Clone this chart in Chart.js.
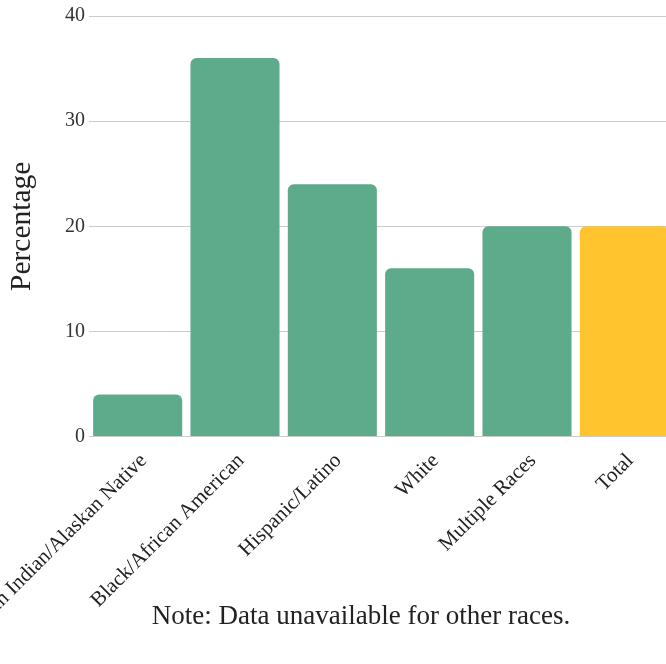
<!DOCTYPE html>
<html>
<head>
<meta charset="utf-8">
<script src="https://cdn.jsdelivr.net/npm/chart.js"></script>
<style>
  html, body { margin: 0; padding: 0; background: #fff; }
  #wrap { width: 666px; height: 664px; overflow: hidden; position: relative; }
  #chart { position: absolute; left: 0; top: 0; }
</style>
</head>
<body>
<div id="wrap"><canvas id="chart" width="722" height="664"></canvas></div>
<script>
// chart data
const categories = ['American Indian/Alaskan Native', 'Black/African American', 'Hispanic/Latino', 'White', 'Multiple Races', 'Total'];
const percentages = [4, 36, 24, 16, 20, 20];
const barColors = ['#5eab8b', '#5eab8b', '#5eab8b', '#5eab8b', '#5eab8b', '#ffc42e'];
const yTicks = [0, 10, 20, 30, 40];
const noteText = 'Note: Data unavailable for other races.';

const serif = '"Liberation Serif", "Times New Roman", serif';

const ctx = document.getElementById('chart').getContext('2d');
const chart = new Chart(ctx, {
    type: 'bar',
    data: {
        labels: categories,
        datasets: [{
            data: percentages,
            backgroundColor: barColors,
            borderRadius: 6,
            borderSkipped: 'start',
            categoryPercentage: 1,
            barPercentage: 0.915
        }]
    },
    options: {
        responsive: false,
        animation: false,
        devicePixelRatio: 1,
        layout: { padding: { top: 13, left: 0, right: 0, bottom: 0 } },
        plugins: {
            legend: { display: false },
            tooltip: { enabled: false },
            title: {
                display: true,
                position: 'bottom',
                text: noteText,
                color: '#222',
                font: { family: serif, size: 27, weight: 'normal' },
                // negative top padding lets the tick labels run into the title box
                padding: { top: -30, bottom: 31 }
            }
        },
        scales: {
            x: {
                grid: { display: false },
                border: { display: false },
                ticks: {
                    color: '#222',
                    font: { family: serif, size: 21 },
                    minRotation: 45,
                    maxRotation: 45,
                    autoSkip: false,
                    padding: 4,
                    labelOffset: 6
                },
                afterFit: (scale) => {
                    scale.paddingLeft = 0;
                    scale.paddingRight = 49;
                    scale.height = 194;
                }
            },
            y: {
                min: 0,
                max: 40,
                afterBuildTicks: (scale) => {
                    scale.ticks = yTicks.map(v => ({ value: v }));
                },
                grid: { color: '#cccccc', drawTicks: false },
                border: { display: false },
                ticks: {
                    color: '#333',
                    font: { family: serif, size: 20 },
                    padding: 4
                },
                title: {
                    display: true,
                    text: 'Percentage',
                    color: '#222',
                    font: { family: serif, size: 29.5 },
                    padding: { top: 5, bottom: 0 }
                },
                afterFit: (scale) => {
                    scale.width = 89;
                }
            }
        }
    }
});
</script>
</body>
</html>
